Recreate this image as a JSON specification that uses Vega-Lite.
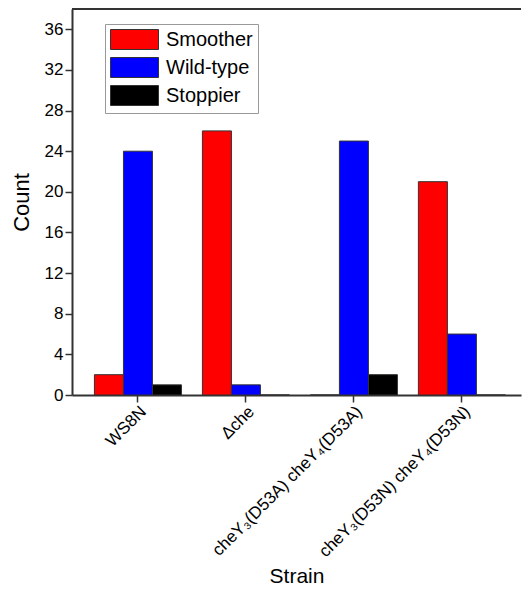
{
  "$schema": "https://vega.github.io/schema/vega-lite/v6.json",
  "autosize": {"type": "none"},
  "padding": {"left": 72, "top": 9, "right": 1, "bottom": 195},
  "width": 449,
  "height": 386,
  "background": "white",
  "config": {
    "view": {"stroke": null},
    "font": "Liberation Sans"
  },
  "data": {
    "values": [
      {"Strain": "WS8N", "Type": "Smoother", "Count": 2},
      {"Strain": "WS8N", "Type": "Wild-type", "Count": 24},
      {"Strain": "WS8N", "Type": "Stoppier", "Count": 1},
      {"Strain": "Δche", "Type": "Smoother", "Count": 26},
      {"Strain": "Δche", "Type": "Wild-type", "Count": 1},
      {"Strain": "Δche", "Type": "Stoppier", "Count": 0},
      {"Strain": "cheY₃(D53A) cheY₄(D53A)", "Type": "Smoother", "Count": 0},
      {"Strain": "cheY₃(D53A) cheY₄(D53A)", "Type": "Wild-type", "Count": 25},
      {"Strain": "cheY₃(D53A) cheY₄(D53A)", "Type": "Stoppier", "Count": 2},
      {"Strain": "cheY₃(D53N) cheY₄(D53N)", "Type": "Smoother", "Count": 21},
      {"Strain": "cheY₃(D53N) cheY₄(D53N)", "Type": "Wild-type", "Count": 6},
      {"Strain": "cheY₃(D53N) cheY₄(D53N)", "Type": "Stoppier", "Count": 0}
    ]
  },
  "layer": [
    {
      "mark": {"type": "bar", "stroke": "#333333", "strokeWidth": 1},
      "encoding": {
        "x": {
          "field": "Strain",
          "type": "nominal",
          "sort": null,
          "scale": {"paddingInner": 0.194, "paddingOuter": 0.176, "align": 0.59},
          "axis": {
            "title": "Strain",
            "titleFontSize": 21,
            "titleFontWeight": "normal",
            "titleColor": "black",
            "labelAngle": -45,
            "labelAlign": "right",
            "labelBaseline": "top",
            "labelFontSize": 17,
            "labelColor": "black",
            "labelLimit": 400,
            "labelPadding": 1,
            "tickSize": 7,
            "tickWidth": 1.5,
            "tickColor": "#333333",
            "domainColor": "#333333",
            "domainWidth": 2,
            "titlePadding": 6
          }
        },
        "xOffset": {"field": "Type", "sort": ["Smoother", "Wild-type", "Stoppier"], "scale": {"paddingInner": 0, "paddingOuter": 0}},
        "y": {
          "field": "Count",
          "type": "quantitative",
          "scale": {"domain": [0, 38], "nice": false},
          "axis": {
            "title": "Count",
            "titleFontSize": 22,
            "titleFontWeight": "normal",
            "titleColor": "black",
            "titlePadding": 11,
            "values": [0, 2, 4, 6, 8, 10, 12, 14, 16, 18, 20, 22, 24, 26, 28, 30, 32, 34, 36, 38],
            "labelExpr": "datum.value % 4 === 0 && datum.value < 38 ? datum.label : ''",
            "labelFontSize": 17,
            "labelColor": "black",
            "labelPadding": 2,
            "tickSize": {"condition": {"test": "datum.value % 4 === 0", "value": 7}, "value": 4},
            "tickWidth": 1.5,
            "tickColor": "#333333",
            "domainColor": "#333333",
            "domainWidth": 2,
            "grid": false
          }
        },
        "color": {
          "field": "Type",
          "type": "nominal",
          "scale": {"domain": ["Smoother", "Wild-type", "Stoppier"], "range": ["#FF0000", "#0000FF", "#000000"]},
          "legend": {
            "title": null,
            "orient": "none",
            "legendX": 33,
            "legendY": 15,
            "symbolType": "M-1,-1L3.8,-1L3.8,1L-1,1Z",
            "symbolSize": 400,
            "symbolStrokeColor": "#333333",
            "symbolStrokeWidth": 1,
            "labelFontSize": 20,
            "labelColor": "black",
            "labelOffset": 35,
            "rowPadding": 3,
            "strokeColor": "#999999",
            "padding": 5,
            "fillColor": "white"
          }
        }
      }
    },
    {
      "mark": {"type": "rule", "color": "#333333", "strokeWidth": 2},
      "encoding": {"y": {"datum": 38}}
    }
  ]
}
